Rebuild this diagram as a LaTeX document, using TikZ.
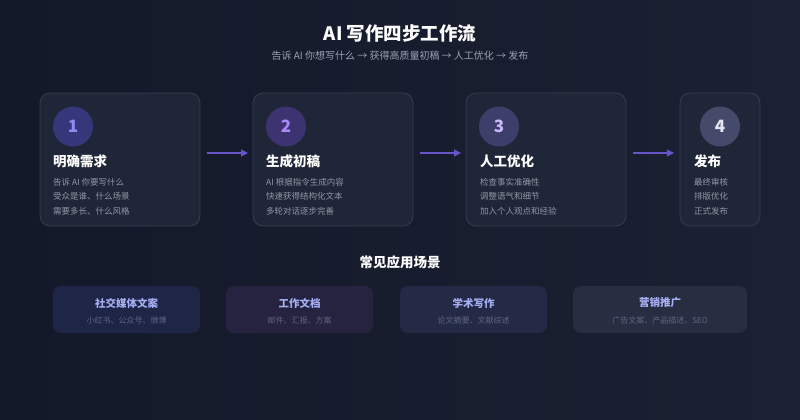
\documentclass[tikz,border=0pt]{standalone}
\usepackage{fontspec}
\setmainfont{Noto Sans CJK SC}
\usetikzlibrary{arrows.meta}
\definecolor{bgA}{HTML}{131929}
\definecolor{bgB}{HTML}{1B2132}
\definecolor{cardfill}{HTML}{1F2638}
\definecolor{cardline}{HTML}{363D50}
\definecolor{desc}{HTML}{9097A6}
\definecolor{subt}{HTML}{9AA2B4}
\definecolor{arrowc}{HTML}{6654C8}
\definecolor{cA}{HTML}{36377A}\definecolor{nA}{HTML}{8C8CF2}
\definecolor{cB}{HTML}{3D3370}\definecolor{nB}{HTML}{A98AF8}
\definecolor{cC}{HTML}{3E3E6A}\definecolor{nC}{HTML}{C8B8FC}
\definecolor{cD}{HTML}{464A6A}\definecolor{nD}{HTML}{E4E4F4}
\definecolor{uA}{HTML}{1E2546}
\definecolor{uB}{HTML}{25233F}
\definecolor{uC}{HTML}{242A45}
\definecolor{uD}{HTML}{282E42}
\definecolor{utitle}{HTML}{A8B0F4}
\definecolor{usub}{HTML}{5E6580}
\tikzset{
  stepcard/.style={draw=cardline, line width=0.8pt, fill=cardfill, rounded corners=10pt},
  numcirc/.style={circle, minimum size=40pt, inner sep=0pt, font=\fontsize{17}{17}\selectfont\bfseries},
  steptitle/.style={anchor=west, text=white, font=\fontsize{13.5}{14}\selectfont\bfseries, inner sep=0pt},
  stepdesc/.style={anchor=west, text=desc, font=\fontsize{8.5}{9}\selectfont, inner sep=0pt},
  flowarrow/.style={draw=arrowc, line width=1.2pt, -{Triangle[length=7pt,width=7pt]}},
  usecard/.style={rounded corners=8pt, draw=none},
  usetitle/.style={text=utitle, font=\fontsize{10.5}{11}\selectfont\bfseries, inner sep=0pt},
  usesub/.style={text=usub, font=\fontsize{8}{8}\selectfont, inner sep=0pt}
}
\begin{document}
\begin{tikzpicture}[x=1pt,y=-1pt]
\useasboundingbox (0,0) rectangle (800,420);
\shade[left color=bgA, right color=bgB] (0,0) rectangle (800,420);
% header
\node[text=white, font=\fontsize{18.5}{19}\selectfont\bfseries] (title) at (400,33) {AI 写作四步工作流};
\node[text=subt, font=\fontsize{10}{10}\selectfont] (subtitle) at (400,56) {告诉 AI 你想写什么 → 获得高质量初稿 → 人工优化 → 发布};
% cards
\node[stepcard, minimum width=160pt, minimum height=133pt] (s1) at (120,159.5) {};
\node[stepcard, minimum width=160pt, minimum height=133pt] (s2) at (333,159.5) {};
\node[stepcard, minimum width=160pt, minimum height=133pt] (s3) at (546,159.5) {};
\node[stepcard, minimum width=80pt, minimum height=133pt] (s4) at (720,159.5) {};
% circles
\node[numcirc, fill=cA, text=nA] (c1) at (73,126.5) {1};
\node[numcirc, fill=cB, text=nB] (c2) at (286,126.5) {2};
\node[numcirc, fill=cC, text=nC] (c3) at (499,126.5) {3};
\node[numcirc, fill=cD, text=nD] (c4) at (720,126.5) {4};
% titles
\node[steptitle] (t1) at (53,161) {明确需求};
\node[steptitle] (t2) at (266,161) {生成初稿};
\node[steptitle] (t3) at (480,161) {人工优化};
\node[steptitle] (t4) at (694,161) {发布};
% descriptions
\node[stepdesc] (d1a) at (53,182) {告诉 AI 你要写什么};
\node[stepdesc] (d1b) at (53,196.5) {受众是谁、什么场景};
\node[stepdesc] (d1c) at (53,211) {需要多长、什么风格};
\node[stepdesc] (d2a) at (266,182) {AI 根据指令生成内容};
\node[stepdesc] (d2b) at (266,196.5) {快速获得结构化文本};
\node[stepdesc] (d2c) at (266,211) {多轮对话逐步完善};
\node[stepdesc] (d3a) at (480,182) {检查事实准确性};
\node[stepdesc] (d3b) at (480,196.5) {调整语气和细节};
\node[stepdesc] (d3c) at (480,211) {加入个人观点和经验};
\node[stepdesc] (d4a) at (694,182) {最终审核};
\node[stepdesc] (d4b) at (694,196.5) {排版优化};
\node[stepdesc] (d4c) at (694,211) {正式发布};
% arrows
\coordinate (a1s) at (207,153); \coordinate (a1e) at (248,153);
\coordinate (a2s) at (420,153); \coordinate (a2e) at (461,153);
\coordinate (a3s) at (633,153); \coordinate (a3e) at (674,153);
\draw[flowarrow] (a1s) -- (a1e);
\draw[flowarrow] (a2s) -- (a2e);
\draw[flowarrow] (a3s) -- (a3e);
% use cases
\node[text=white, font=\fontsize{13.5}{14}\selectfont\bfseries] (usehead) at (400,262) {常见应用场景};
\node[usecard, fill=uA, minimum width=147pt, minimum height=47pt] (UA) at (126.5,309.5) {};
\node[usecard, fill=uB, minimum width=147pt, minimum height=47pt] (UB) at (299.5,309.5) {};
\node[usecard, fill=uC, minimum width=147pt, minimum height=47pt] (UC) at (473.5,309.5) {};
\node[usecard, fill=uD, minimum width=174pt, minimum height=47pt] (UD) at (660,309.5) {};
\node[usetitle] (ua) at (126.5,303) {社交媒体文案};
\node[usesub] (uas) at (126.5,320) {小红书、公众号、微博};
\node[usetitle] (ub) at (299.5,303) {工作文档};
\node[usesub] (ubs) at (299.5,320) {邮件、汇报、方案};
\node[usetitle] (uc) at (473.5,303) {学术写作};
\node[usesub] (ucs) at (473.5,320) {论文摘要、文献综述};
\node[usetitle] (ud) at (660,303) {营销推广};
\node[usesub] (uds) at (660,320) {广告文案、产品描述、SEO};
\end{tikzpicture}
\end{document}
